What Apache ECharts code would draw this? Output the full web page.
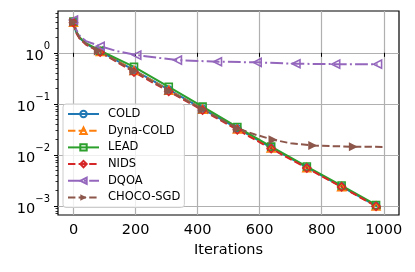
<!DOCTYPE html>
<html>
<head>
<meta charset="utf-8">
<script src="https://cdn.jsdelivr.net/npm/echarts@6/dist/echarts.min.js"></script>
<style>html,body{margin:0;padding:0;background:#fff;}#c{width:415px;height:272px;}</style>
</head>
<body>
<div id="c"></div>
<script>
// ---- data ----
const seriesNames = ['COLD', 'Dyna-COLD', 'LEAD', 'NIDS', 'DQOA', 'CHOCO-SGD'];

const mainIter = [0, 8, 20, 40, 86, 195, 307, 416, 528, 637, 752, 864, 975, 990];
const mainMark = [1, 0, 0, 0, 1, 1, 1, 1, 1, 1, 1, 1, 1, 0];
const coldVal = [4.0, 2.6, 1.95, 1.5, 1.07, 0.46, 0.19, 0.080, 0.033, 0.0138, 0.0057, 0.00238, 0.00100, 0.00090];
const dynaVal = [4.0, 2.6, 1.95, 1.5, 1.06, 0.45, 0.185, 0.078, 0.032, 0.0136, 0.0056, 0.00236, 0.00099, 0.00089];
const leadVal = [4.1, 2.7, 2.0, 1.55, 1.10, 0.53, 0.215, 0.088, 0.035, 0.0145, 0.0059, 0.0025, 0.00104, 0.00093];
const nidsVal = [3.9, 2.5, 1.9, 1.45, 1.03, 0.42, 0.175, 0.075, 0.031, 0.0132, 0.0055, 0.00235, 0.00098, 0.00088];

const dqoaIter = [0, 8, 20, 40, 86, 140, 204, 335, 464, 592, 717, 845, 980];
const dqoaMark = [1, 0, 0, 0, 1, 0, 1, 1, 1, 1, 1, 1, 1];
const dqoaVal = [4.4, 2.9, 2.15, 1.7, 1.35, 1.08, 0.90, 0.72, 0.67, 0.65, 0.61, 0.60, 0.60];

const chocoIter = [0, 8, 20, 40, 80, 195, 307, 416, 528, 585, 643, 700, 771, 902, 999];
const chocoMark = [1, 0, 0, 0, 1, 1, 1, 1, 1, 0, 1, 0, 1, 1, 0];
const chocoVal = [4.0, 2.6, 1.95, 1.5, 1.08, 0.44, 0.18, 0.077, 0.033, 0.025, 0.0198, 0.0168, 0.0152, 0.0144, 0.0143];

const xTicks = [0, 200, 400, 600, 800, 1000];
const yTickExp = [-3, -2, -1, 0];
const xMin = -49.95, xMax = 1048.95;
const logMin = -3.18, logMax = 0.82;

// ---- build ----
const FONT = 'DejaVu Sans';
function pairs(xs, ys, marks) {
  return xs.map((x, i) => marks[i] ? [x, ys[i]] : {value: [x, ys[i]], symbol: 'none'});
}
const minorTicks = [];
for (let e = -4; e <= 0; e++) {
  for (let k = 2; k <= 9; k++) {
    const v = Math.log10(k) + e;
    if (v > logMin && v < logMax) minorTicks.push(v);
  }
}
function mk(name, data, color, dash, symbol, size, rotate, filled) {
  return {
    name: name, type: 'line', data: data, xAxisIndex: 0, yAxisIndex: 0,
    showSymbol: true, showAllSymbol: true, symbol: symbol, symbolSize: size,
    symbolRotate: rotate, smooth: false, animation: false,
    lineStyle: {color: color, width: 2, type: dash},
    itemStyle: filled ? {color: color, borderColor: color, borderWidth: 0}
                      : {color: 'rgba(255,255,255,0)', borderColor: color, borderWidth: 1.6},
    emphasis: {disabled: true}
  };
}
const series = [
  mk('COLD', pairs(mainIter, coldVal, mainMark), '#1f77b4', 'solid', 'circle', 7, 0, false),
  mk('Dyna-COLD', pairs(mainIter, dynaVal, mainMark), '#ff7f0e', [7.4, 3.2], 'triangle', 8, 0, false),
  mk('LEAD', pairs(mainIter, leadVal, mainMark), '#2ca02c', 'solid', 'rect', 7, 0, false),
  mk('NIDS', pairs(mainIter, nidsVal, mainMark), '#d62728', [7.4, 3.2], 'diamond', 8, 0, false),
  mk('DQOA', pairs(dqoaIter, dqoaVal, dqoaMark), '#9467bd', [12.8, 3.2, 2, 3.2], 'triangle', 8, 90, false),
  mk('CHOCO-SGD', pairs(chocoIter, chocoVal, chocoMark), '#8c564b', [7.4, 3.2], 'triangle', 9, -90, true)
];

const chart = echarts.init(document.getElementById('c'), null, {renderer: 'canvas'});
chart.setOption({
  animation: false,
  backgroundColor: '#fff',
  textStyle: {fontFamily: FONT},
  grid: {left: 58, right: 16, top: 11, bottom: 57, show: true, borderColor: '#000', borderWidth: 1.2,
         backgroundColor: '#fff', containLabel: false, outerBoundsMode: 'none'},
  legend: {
    orient: 'vertical', left: 63, top: 104, data: seriesNames,
    itemWidth: 31, itemHeight: 8, itemGap: 4.7,
    padding: [4, 4, 4, 4],
    backgroundColor: 'rgba(255,255,255,0.8)', borderColor: '#cccccc', borderWidth: 1, borderRadius: 3,
    textStyle: {fontFamily: FONT, fontSize: 11.5, color: '#000', lineHeight: 12, padding: [0, 0, 0, 4]},
    selectedMode: false
  },
  xAxis: [{
    type: 'value', min: xMin, max: xMax,
    name: 'Iterations', nameLocation: 'middle', nameGap: 27,
    nameTextStyle: {fontFamily: FONT, fontSize: 14.5, color: '#000'},
    axisLine: {show: false},
    axisTick: {show: true, length: 4, customValues: xTicks, lineStyle: {color: '#000', width: 1}},
    axisLabel: {customValues: xTicks, fontFamily: FONT, fontSize: 14.5, color: '#000', margin: 8,
      formatter: function (v) { return String(Math.round(v)); }},
    splitLine: {show: true, lineStyle: {color: '#b0b0b0', width: 1.2}}
  }],
  yAxis: [
    {type: 'log', logBase: 10, min: Math.pow(10, logMin), max: Math.pow(10, logMax), show: false, position: 'left'},
    {type: 'value', min: logMin, max: logMax, position: 'left',
     axisLine: {show: false},
     axisTick: {show: true, length: 4, customValues: yTickExp, lineStyle: {color: '#000', width: 1}},
     axisLabel: {customValues: yTickExp, margin: 8, color: '#000',
       formatter: function (v) {
         const e = Math.round(v);
         return '{b|10}{s|' + (e === 0 ? '0' : '−' + (-e)) + '}';
       },
       rich: {
         b: {fontFamily: FONT, fontSize: 14.5, color: '#000', lineHeight: 22, verticalAlign: 'bottom'},
         s: {fontFamily: FONT, fontSize: 10, color: '#000', lineHeight: 10, verticalAlign: 'top'}
       }},
     splitLine: {show: true, lineStyle: {color: '#b0b0b0', width: 1.2}}
    },
    {type: 'value', min: logMin, max: logMax, position: 'left',
     axisLine: {show: false},
     axisTick: {show: true, length: 2.5, customValues: minorTicks, lineStyle: {color: '#000', width: 0.8}},
     axisLabel: {show: false}, splitLine: {show: false}
    }
  ],
  series: series
});
</script>
</body>
</html>
